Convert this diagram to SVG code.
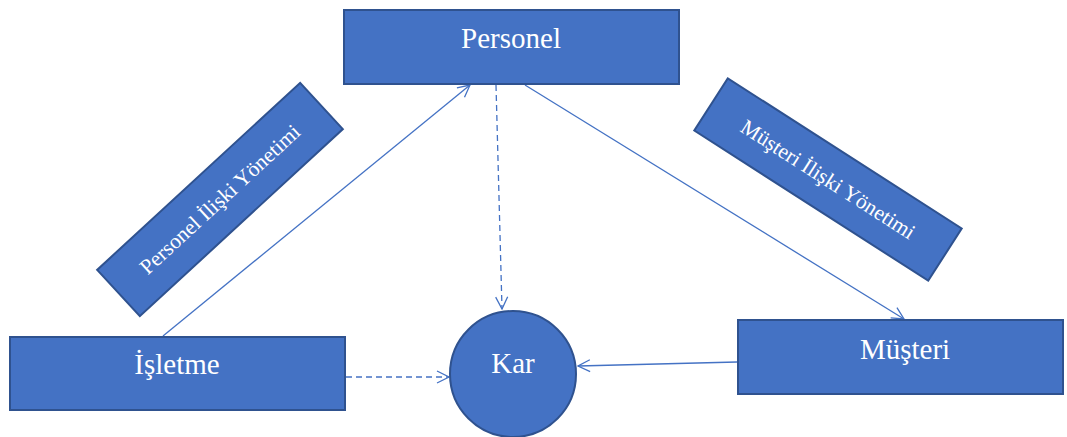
<svg xmlns="http://www.w3.org/2000/svg" width="1067" height="437" viewBox="0 0 1067 437">
  <style>
    .box { fill: #4472C4; stroke: #2F528F; stroke-width: 2; }
    .lbl { fill: #FFFFFF; font-size: 29px; text-anchor: middle; }
    .lbl-sm { fill: #FFFFFF; font-size: 21.5px; text-anchor: middle; }
    .link { fill: none; stroke: #4472C4; stroke-width: 1.3; }
    .dash { stroke-dasharray: 6 4; }
  </style>
  <defs>
    <marker id="open-arrow" viewBox="0 0 14 14" refX="13" refY="7" markerWidth="14" markerHeight="14" markerUnits="userSpaceOnUse" orient="auto">
      <path d="M1,1 L13,7 L1,13" fill="none" stroke="#4472C4" stroke-width="1.3"/>
    </marker>
  </defs>
  <rect width="1067" height="437" fill="#FFFFFF"/>

  <g font-family="Liberation Serif, DejaVu Serif, serif">
    <!-- rotated relation labels -->
    <g id="personel-iliski">
      <rect class="box" x="-138" y="-31.5" width="276" height="63" transform="translate(220 199.5) rotate(-42.65)"/>
      <text class="lbl-sm" x="0" y="7" transform="translate(220 199.5) rotate(-42.65)">Personel İlişki Yönetimi</text>
    </g>
    <g id="musteri-iliski">
      <rect class="box" x="-139" y="-31" width="278" height="62" transform="translate(828 179.5) rotate(32.7)"/>
      <text class="lbl-sm" x="0" y="7" transform="translate(828 179.5) rotate(32.7)">Müşteri İlişki Yönetimi</text>
    </g>

    <!-- connectors -->
    <g id="connectors">
      <line class="link" x1="163" y1="336" x2="470" y2="85" marker-end="url(#open-arrow)"/>
      <line class="link dash" x1="496" y1="85" x2="502" y2="309" marker-end="url(#open-arrow)"/>
      <line class="link" x1="525" y1="85" x2="904" y2="319" marker-end="url(#open-arrow)"/>
      <line class="link dash" x1="346" y1="377" x2="449" y2="377" marker-end="url(#open-arrow)"/>
      <line class="link" x1="737" y1="362" x2="578" y2="366" marker-end="url(#open-arrow)"/>
    </g>

    <!-- main nodes -->
    <g id="personel">
      <rect class="box" x="344" y="10" width="335" height="74"/>
      <text class="lbl" x="511" y="48">Personel</text>
    </g>
    <g id="isletme">
      <rect class="box" x="10" y="337" width="335" height="73"/>
      <text class="lbl" x="177" y="374">İşletme</text>
    </g>
    <g id="musteri">
      <rect class="box" x="738" y="320" width="325" height="74"/>
      <text class="lbl" x="905" y="359">Müşteri</text>
    </g>
    <g id="kar">
      <circle class="box" cx="513" cy="374" r="63"/>
      <text class="lbl" x="513" y="373">Kar</text>
    </g>
  </g>
</svg>
